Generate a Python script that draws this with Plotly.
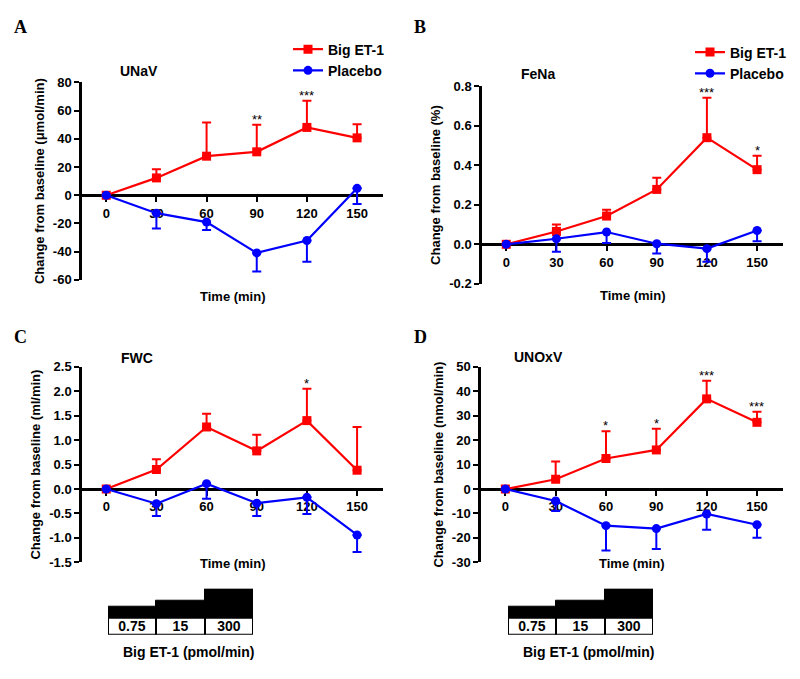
import plotly.graph_objects as go

# the page body keeps its 8px margin, so shrink the figure to fit the 800x679 window
PAGE_W, PAGE_H = 800, 679
OFF = 8
W, H = PAGE_W - OFF, PAGE_H - 2 * OFF
SANS = 'Liberation Sans, Arial, sans-serif'
SERIF = 'Liberation Serif, Times New Roman, serif'
RED = '#FF0000'
BLUE = '#0000FF'

TIME = [0, 30, 60, 90, 120, 150]

# A: UNaV (umol/min)
UNAV_BIG = [0, 12.3, 27.7, 30.8, 48.1, 40.7]
UNAV_BIG_SEM = [0, 6.2, 23.9, 19.2, 18.9, 9.7]
UNAV_PLA = [0, -12.7, -19.0, -40.9, -32.1, 4.9]
UNAV_PLA_SEM = [0, 10.9, 5.7, 13.2, 15.1, 11.1]
UNAV_STARS = ['', '', '', '**', '***', '']

# B: FeNa (%)
FENA_BIG = [0, 0.065, 0.143, 0.278, 0.54, 0.378]
FENA_BIG_SEM = [0, 0.035, 0.032, 0.059, 0.202, 0.07]
FENA_PLA = [0, 0.028, 0.062, 0.003, -0.022, 0.07]
FENA_PLA_SEM = [0, 0.066, 0.055, 0.05, 0.066, 0.055]
FENA_STARS = ['', '', '', '', '***', '*']

# C: FWC (ml/min)
FWC_BIG = [0, 0.40, 1.27, 0.78, 1.40, 0.385]
FWC_BIG_SEM = [0, 0.21, 0.27, 0.33, 0.65, 0.885]
FWC_PLA = [0, -0.30, 0.11, -0.29, -0.17, -0.94]
FWC_PLA_SEM = [0, 0.25, 0.31, 0.26, 0.34, 0.35]
FWC_STARS = ['', '', '', '', '*', '']

# D: UNOxV (nmol/min)
UNOX_BIG = [0, 4.0, 12.5, 16.0, 36.9, 27.3]
UNOX_BIG_SEM = [0, 7.3, 11.1, 8.7, 7.4, 4.3]
UNOX_PLA = [0, -4.9, -15.0, -16.2, -10.2, -14.6]
UNOX_PLA_SEM = [0, 4.1, 10.2, 8.3, 6.5, 5.3]
UNOX_STARS = ['', '', '*', '*', '***', '***']

# infusion schedule
DOSES = ['0.75', '15', '300']
DOSE_STEP = [0.7, 1.05, 1.75]

PANELS = [
    dict(letter='A', title='UNaV', ytitle='Change from baseline (\u03bcmol/min)',
         big=UNAV_BIG, big_sem=UNAV_BIG_SEM, pla=UNAV_PLA, pla_sem=UNAV_PLA_SEM, stars=UNAV_STARS,
         yticks=[-60, -40, -20, 0, 20, 40, 60, 80], fmt='{:g}',
         box=(82, 383, 77, 279), title_xy=(118, 65), letter_xy=(12, 20), time_y=296,
         legend=(288, 27)),
    dict(letter='B', title='FeNa', ytitle='Change from baseline (%)',
         big=FENA_BIG, big_sem=FENA_BIG_SEM, pla=FENA_PLA, pla_sem=FENA_PLA_SEM, stars=FENA_STARS,
         yticks=[-0.2, 0.0, 0.2, 0.4, 0.6, 0.8], fmt='{:.1f}',
         box=(482, 783, 81, 283), title_xy=(519, 68), letter_xy=(412, 20), time_y=295,
         legend=(690, 30)),
    dict(letter='C', title='FWC', ytitle='Change from baseline (ml/min)',
         big=FWC_BIG, big_sem=FWC_BIG_SEM, pla=FWC_PLA, pla_sem=FWC_PLA_SEM, stars=FWC_STARS,
         yticks=[-1.5, -1.0, -0.5, 0.0, 0.5, 1.0, 1.5, 2.0, 2.5], fmt='{:.1f}',
         box=(82, 383, 368, 568), title_xy=(119, 359), letter_xy=(12, 337), time_y=569,
         legend=None),
    dict(letter='D', title='UNOxV', ytitle='Change from baseline (nmol/min)',
         big=UNOX_BIG, big_sem=UNOX_BIG_SEM, pla=UNOX_PLA, pla_sem=UNOX_PLA_SEM, stars=UNOX_STARS,
         yticks=[-30, -20, -10, 0, 10, 20, 30, 40, 50], fmt='{:g}',
         box=(481, 783, 368, 568), title_xy=(512, 358), letter_xy=(412, 337), time_y=569,
         legend=None),
]

XRANGE = [-14.5, 165.5]


def px(x):
    return (x - OFF) / W


def py(y):
    return 1 - (y - OFF) / H


fig = go.Figure()
layout = {}
annotations = []

for i, p in enumerate(PANELS, start=1):
    sfx = '' if i == 1 else str(i)
    x0, x1, y0, y1 = p['box']
    ymin, ymax = p['yticks'][0], p['yticks'][-1]
    ydom = [py(y1), py(y0)]
    zero_pos = ydom[0] + (0 - ymin) / (ymax - ymin) * (ydom[1] - ydom[0])
    legend_name = None
    if p['legend'] is not None:
        legend_name = 'legend' if i == 1 else 'legend%d' % i
        lx, ly = p['legend']
        layout[legend_name] = dict(
            x=px(lx), y=py(ly), xanchor='left', yanchor='top',
            bgcolor='rgba(0,0,0,0)', borderwidth=0,
            font=dict(family=SANS, size=14, color='black', weight='bold'),
        )

    tick_font = dict(family=SANS, size=13, color='black', weight='bold')
    layout['xaxis' + sfx] = dict(
        domain=[px(x0), px(x1)], range=XRANGE, anchor='free', position=zero_pos,
        tickvals=TIME, ticktext=[str(t) for t in TIME], ticks='outside', ticklen=5,
        tickwidth=2, tickcolor='black', showline=True, linewidth=2.5, linecolor='black',
        showgrid=False, zeroline=False, tickfont=tick_font, layer='below traces',
    )
    layout['yaxis' + sfx] = dict(
        domain=ydom, range=[ymin, ymax], anchor='x' + sfx,
        tickvals=p['yticks'], ticktext=[p['fmt'].format(v) for v in p['yticks']],
        ticks='outside', ticklen=5, tickwidth=2, tickcolor='black',
        showline=True, linewidth=2.5, linecolor='black', showgrid=False, zeroline=False,
        tickfont=tick_font, layer='below traces',
        title=dict(text=p['ytitle'], standoff=6,
                   font=dict(family=SANS, size=13, color='black', weight='bold')),
    )

    common = dict(xaxis='x' + sfx, yaxis='y' + sfx, mode='lines+markers', cliponaxis=False)
    fig.add_trace(go.Scatter(
        x=TIME, y=p['big'], name='Big ET-1',
        line=dict(color=RED, width=2.2), marker=dict(symbol='square', size=9, color=RED),
        error_y=dict(type='data', symmetric=False, array=p['big_sem'],
                     arrayminus=[0] * len(TIME), color=RED, thickness=2, width=4.5),
        showlegend=legend_name is not None, legend=legend_name or 'legend', **common,
    ))
    fig.add_trace(go.Scatter(
        x=TIME, y=p['pla'], name='Placebo',
        line=dict(color=BLUE, width=2.2), marker=dict(symbol='circle', size=9, color=BLUE),
        error_y=dict(type='data', symmetric=False, array=[0] * len(TIME),
                     arrayminus=p['pla_sem'], color=BLUE, thickness=2, width=4.5),
        showlegend=legend_name is not None, legend=legend_name or 'legend', **common,
    ))

    # significance stars above the Big ET-1 error bars
    for t, v, s, star in zip(TIME, p['big'], p['big_sem'], p['stars']):
        if star:
            annotations.append(dict(
                x=t, y=v + s, xref='x' + sfx, yref='y' + sfx, text=star, showarrow=False,
                xanchor='center', yanchor='bottom', yshift=-4,
                font=dict(family=SANS, size=13, color='black'),
            ))

    annotations.append(dict(
        x=px(p['title_xy'][0]), y=py(p['title_xy'][1]), xref='paper', yref='paper',
        text=p['title'], showarrow=False, xanchor='left', yanchor='middle',
        font=dict(family=SANS, size=14, color='black', weight='bold'),
    ))
    annotations.append(dict(
        x=(px(x0) + px(x1)) / 2, y=py(p['time_y']), xref='paper', yref='paper',
        text='Time (min)', showarrow=False, xanchor='center', yanchor='middle',
        font=dict(family=SANS, size=13, color='black', weight='bold'),
    ))
    annotations.append(dict(
        x=px(p['letter_xy'][0]), y=py(p['letter_xy'][1]), xref='paper', yref='paper',
        text=p['letter'], showarrow=False, xanchor='left', yanchor='middle',
        font=dict(family=SERIF, size=18, color='black', weight='bold'),
    ))

# infusion schedule boxes below panels C and D
for j, sx in enumerate([108, 508]):
    sfx = str(5 + j)
    layout['xaxis' + sfx] = dict(domain=[px(sx), px(sx + 145)], range=[-0.5, 2.5],
                                 anchor='y' + sfx, visible=False)
    layout['yaxis' + sfx] = dict(domain=[py(642), py(595)], range=[0, 1 + max(DOSE_STEP)],
                                 anchor='x' + sfx, visible=False)
    fig.add_trace(go.Bar(
        x=[0, 1, 2], y=DOSE_STEP, base=[1] * 3, xaxis='x' + sfx, yaxis='y' + sfx,
        marker=dict(color='black', line=dict(color='black', width=1)),
        showlegend=False, hoverinfo='skip',
    ))
    fig.add_trace(go.Bar(
        x=[0, 1, 2], y=[1] * 3, base=[0] * 3, xaxis='x' + sfx, yaxis='y' + sfx,
        marker=dict(color='white', line=dict(color='black', width=2)),
        text=DOSES, textposition='inside', insidetextanchor='middle', constraintext='none',
        textangle=0, textfont=dict(family=SANS, size=14, color='black', weight='bold'),
        showlegend=False, hoverinfo='skip',
    ))
    annotations.append(dict(
        x=px(sx + 80), y=py(660), xref='paper', yref='paper',
        text='Big ET-1 (pmol/min)', showarrow=False, xanchor='center', yanchor='middle',
        font=dict(family=SANS, size=14, color='black', weight='bold'),
    ))

fig.update_layout(
    width=W, height=H, margin=dict(l=0, r=0, t=0, b=0),
    paper_bgcolor='white', plot_bgcolor='white',
    barmode='overlay', bargap=0,
    font=dict(family=SANS, color='black'),
    annotations=annotations,
    **layout,
)

fig.write_html('out.html')
